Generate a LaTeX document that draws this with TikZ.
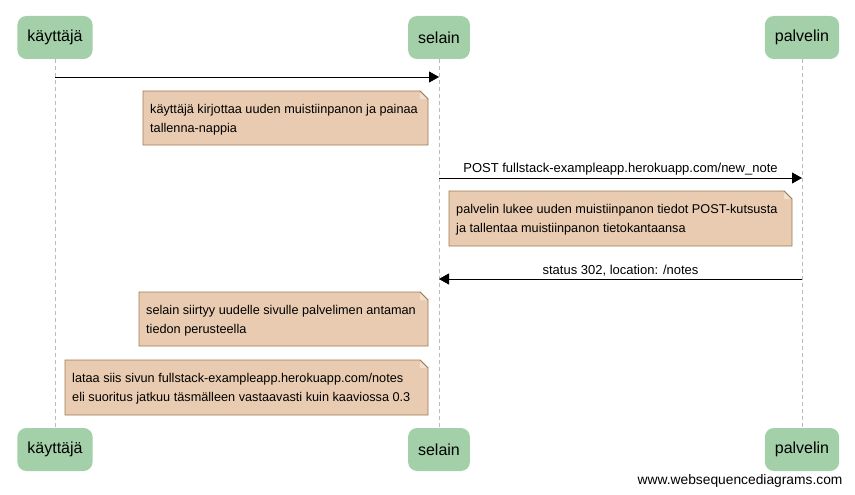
\documentclass[tikz,border=0pt]{standalone}
\usepackage{fontspec}
\setmainfont{Liberation Sans}
\usetikzlibrary{arrows.meta}

\definecolor{actorfill}{HTML}{A3D0A9}
\definecolor{notefill}{HTML}{E8CBB0}
\definecolor{notedraw}{HTML}{9D7E56}
\definecolor{lifegray}{HTML}{BBBBBB}

\tikzset{
  actor/.style={rounded corners=9pt,fill=actorfill,draw=none,minimum height=43pt,inner xsep=10pt,font=\fontsize{16}{19}\selectfont},
  lifeline/.style={lifegray,dash pattern=on 4pt off 3pt,line width=0.8pt},
  msg/.style={-{Triangle[length=10pt,width=11pt]},line width=0.9pt},
  msglabel/.style={above,inner sep=2pt,font=\fontsize{13}{15}\selectfont},
  notebox/.style={anchor=north west,inner sep=7pt,align=left,font=\fontsize{12.7}{19}\selectfont}
}

\begin{document}
\begin{tikzpicture}[x=1pt,y=-1pt]
\useasboundingbox[fill=white] (0,0) rectangle (855,495);

% osallistujat
\foreach \x/\n/\t in {55/k/käyttäjä, 439/s/selain, 802/p/palvelin}{
  \node[actor] (\n top) at (\x,37.5) {\t};
  \node[actor] (\n bot) at (\x,449.5) {\t};
  \draw[lifeline] (\n top) -- (\n bot);
}

% viestit
\coordinate (m1a) at (55,77);   \coordinate (m1b) at (439,77);
\coordinate (m2a) at (439,178); \coordinate (m2b) at (802,178);
\coordinate (m3a) at (802,279); \coordinate (m3b) at (439,279);
\draw[msg] (m1a) -- (m1b);
\draw[msg] (m2a) -- node[msglabel] {POST fullstack-exampleapp.herokuapp.com/new\_note} (m2b);
\draw[msg] (m3a) -- node[msglabel] {status 302, location: /notes} (m3b);

% muistiinpanot
\foreach \n/\x/\y/\w/\h/\t in {
  n1/143/91/285/54/{käyttäjä kirjottaa uuden muistiinpanon ja painaa\\tallenna-nappia},
  n2/449/191/343/55/{palvelin lukee uuden muistiinpanon tiedot POST-kutsusta\\ja tallentaa muistiinpanon tietokantaansa},
  n3/139/292/289/54/{selain siirtyy uudelle sivulle palvelimen antaman\\tiedon perusteella},
  n4/65/360/363/55/{lataa siis sivun fullstack-exampleapp.herokuapp.com/notes\\eli suoritus jatkuu täsmälleen vastaavasti kuin kaaviossa 0.3}}{
  \path[fill=notefill,draw=notedraw,line width=0.8pt]
    (\x,\y) -- (\x+\w-8,\y) -- (\x+\w,\y+8) -- (\x+\w,\y+\h) -- (\x,\y+\h) -- cycle;
  \fill[notefill!60!white] (\x+\w-8,\y) -- (\x+\w-8,\y+8) -- (\x+\w,\y+8) -- cycle;
  \draw[notedraw,line width=0.8pt] (\x+\w-8,\y) -- (\x+\w,\y+8);
  \node[notebox] (\n) at (\x,\y+6) {\t};
}

\node[anchor=east,font=\fontsize{13.8}{16}\selectfont] (wsd) at (846,481) {www.websequencediagrams.com};
\end{tikzpicture}
\end{document}
